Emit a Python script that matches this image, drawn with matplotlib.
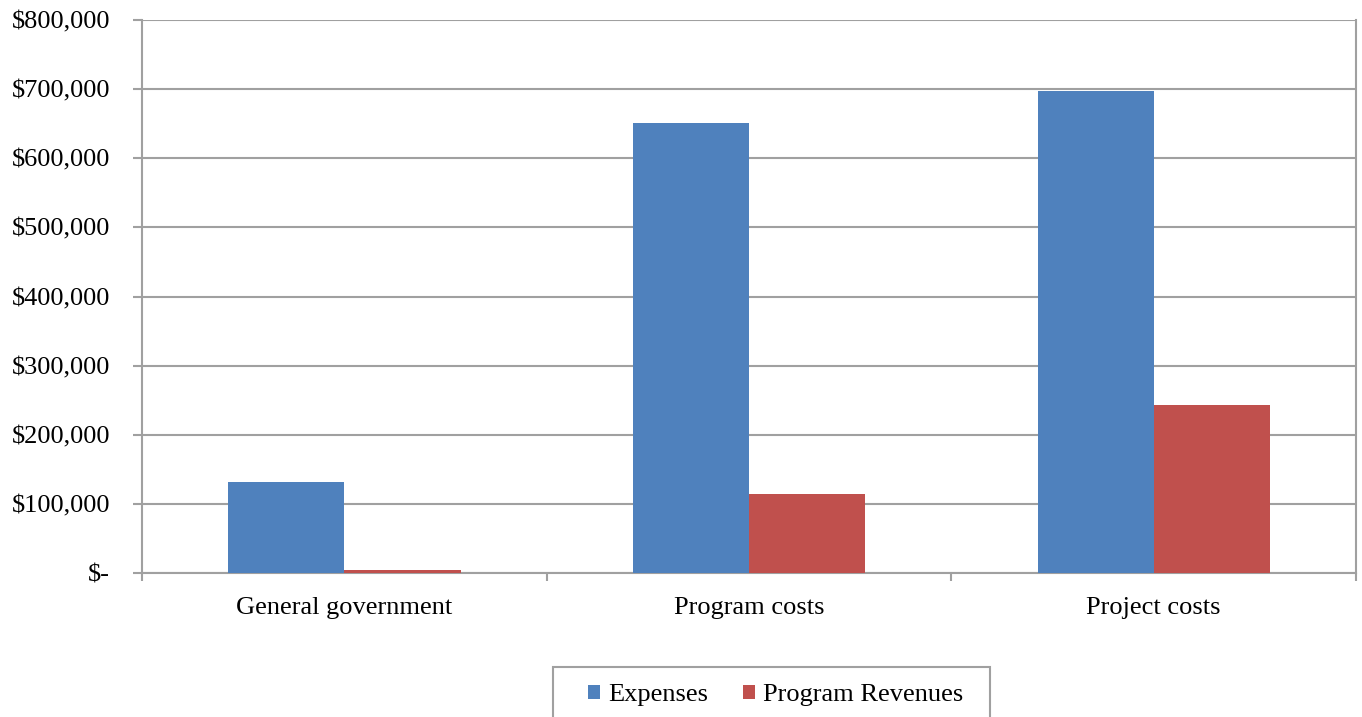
import numpy as np
import matplotlib.pyplot as plt
from matplotlib.patches import Rectangle
from matplotlib.ticker import FuncFormatter, FixedLocator

categories = ['General government', 'Program costs', 'Project costs']
expenses = [131000, 651000, 698000]
revenues = [4000, 114000, 243000]
series_names = ['Expenses', 'Program Revenues']

plt.rcParams['font.family'] = ['Liberation Serif', 'DejaVu Serif']

fig = plt.figure(figsize=(13.62, 7.17), dpi=100)
ax = fig.add_axes([0.1043, 0.2008, 0.8913, 0.7713])

x = np.arange(len(categories))
w = 0.287
ax.bar(x - w/2, expenses, w, color='#4F81BD', label=series_names[0], zorder=3)
ax.bar(x + w/2, revenues, w, color='#C0504D', label=series_names[1], zorder=3)

ax.set_xlim(-0.5, len(categories) - 0.5)
ax.set_ylim(0, 800000)
ax.set_yticks(np.arange(0, 800001, 100000))

def money(v, pos):
    if v == 0:
        return '$-'
    return '${:,.0f}'.format(v)

ax.yaxis.set_major_formatter(FuncFormatter(money))
ax.grid(axis='y', color='#A0A0A0', linewidth=1.5, zorder=0)

ax.set_xticks(x)
ax.set_xticklabels(categories)
ax.xaxis.set_minor_locator(FixedLocator(np.arange(-0.5, len(categories), 1.0)))
ax.tick_params(axis='x', which='major', length=0, pad=17, labelsize=19)
ax.tick_params(axis='x', which='minor', length=6, width=1.5, color='#A0A0A0')
ax.tick_params(axis='y', length=6.5, width=1.5, color='#A0A0A0', labelsize=19, pad=16.5)

for s in ['left', 'right', 'bottom']:
    ax.spines[s].set_color('#A0A0A0')
    ax.spines[s].set_linewidth(1.5)
ax.spines['top'].set_visible(False)

# legend box runs off the bottom edge, like the original
W, H = 1362, 717
fig.patches.append(Rectangle((553 / W, -0.1), (990 - 553) / W, 0.1 + (717 - 667) / H,
                             transform=fig.transFigure, fill=False,
                             edgecolor='#A0A0A0', linewidth=1.5))
fig.legend(loc='upper left', bbox_to_anchor=(588 / W, 1 - 684 / H), ncol=2,
           fontsize=19, frameon=False,
           handlelength=0.45, handleheight=0.45, handletextpad=0.3,
           columnspacing=1.35, borderpad=0, borderaxespad=0)

fig.savefig('out.png', dpi=100)
